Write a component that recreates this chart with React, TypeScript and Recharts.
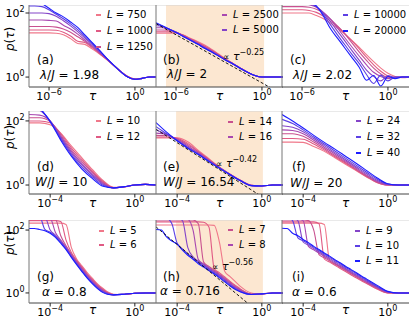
import { LineChart, Line, XAxis, YAxis, ReferenceArea, ReferenceLine } from "recharts";

const FONT = "'DejaVu Sans', sans-serif";

// log10(tau) sample points, one grid per row
const TAU_ROW1 = [-7.4, -7, -6.5, -6, -5.5, -5, -4.5, -4, -3.5, -3, -2.5, -2, -1.5, -1, -0.5, 0, 0.5, 1, 1.47];
const TAU_ROW2 = [-5, -4.5, -4, -3.5, -3, -2.5, -2, -1.5, -1, -0.5, 0, 0.5, 1];
const TAU_ROW3 = [-5, -4.75, -4.5, -4.25, -4, -3.75, -3.5, -3.25, -3, -2.75, -2.5, -2.25, -2, -1.75, -1.5, -1.25, -1, -0.5, 0, 0.5, 1];

const SIZES_ROW1 = [750, 1000, 1250, 2500, 5000, 10000, 20000];
const SIZES_ROW2 = [10, 12, 14, 16, 24, 32, 40];
const SIZES_ROW3 = [5, 6, 7, 8, 9, 10, 11];

const COLORS = ["#f0788a", "#e05a84", "#c8508f", "#a848b0", "#8444c8", "#5c40e4", "#1c1cff"];

// log10 p(tau), small L first
const P_A = [
  [1.38, 1.38, 1.38, 1.38, 1.37, 1.32, 1.2, 1.05, 1.02, 0.88, 0.73, 0.56, 0.37, 0.18, 0.02, -0.06, -0.04, 0, 0],
  [1.47, 1.47, 1.47, 1.47, 1.46, 1.4, 1.28, 1.12, 1.08, 0.92, 0.75, 0.56, 0.37, 0.18, 0.02, -0.06, -0.04, 0, 0],
  [1.58, 1.58, 1.58, 1.58, 1.56, 1.5, 1.4, 1.26, 1.12, 0.95, 0.76, 0.57, 0.37, 0.17, 0.01, -0.06, -0.04, 0, 0],
  [1.78, 1.78, 1.78, 1.77, 1.75, 1.62, 1.5, 1.34, 1.16, 0.98, 0.78, 0.58, 0.37, 0.17, 0, -0.07, -0.04, 0, 0],
  [2.0, 2.0, 2.0, 1.98, 1.9, 1.76, 1.6, 1.42, 1.22, 1.02, 0.8, 0.59, 0.37, 0.17, 0, -0.07, -0.04, 0, 0],
  [2.22, 2.22, 2.2, 2.1, 1.96, 1.82, 1.66, 1.48, 1.27, 1.05, 0.83, 0.6, 0.38, 0.17, 0, -0.07, -0.04, 0, 0],
  [2.5, 2.45, 2.3, 2.15, 2.0, 1.88, 1.72, 1.55, 1.32, 1.08, 0.85, 0.6, 0.38, 0.17, 0, -0.07, -0.04, 0, 0],
];
const P_B = [
  [1.37, 1.37, 1.37, 1.37, 1.31, 1.21, 1.11, 1.0, 0.86, 0.71, 0.56, 0.42, 0.28, 0.15, 0.05, 0, 0, 0, 0],
  [1.41, 1.41, 1.41, 1.39, 1.31, 1.2, 1.09, 0.97, 0.84, 0.69, 0.55, 0.42, 0.28, 0.15, 0.05, 0, 0, 0, 0],
  [1.47, 1.47, 1.46, 1.41, 1.3, 1.18, 1.07, 0.95, 0.82, 0.68, 0.54, 0.41, 0.28, 0.15, 0.05, 0, 0, 0, 0],
  [1.54, 1.54, 1.49, 1.41, 1.29, 1.17, 1.05, 0.93, 0.8, 0.67, 0.53, 0.41, 0.28, 0.15, 0.05, 0, 0, 0, 0],
  [1.6, 1.58, 1.5, 1.4, 1.28, 1.16, 1.04, 0.91, 0.79, 0.66, 0.53, 0.4, 0.27, 0.15, 0.05, 0, 0, 0, 0],
  [1.66, 1.6, 1.5, 1.39, 1.27, 1.15, 1.03, 0.9, 0.78, 0.65, 0.52, 0.4, 0.27, 0.15, 0.05, 0, 0, 0, 0],
  [1.7, 1.61, 1.5, 1.39, 1.27, 1.15, 1.03, 0.9, 0.78, 0.65, 0.52, 0.4, 0.27, 0.15, 0.05, 0, 0, 0, 0],
];
const P_C = [
  [2.0, 2.0, 2.0, 2.0, 2.0, 1.92, 1.82, 1.68, 1.52, 1.34, 1.14, 0.93, 0.7, 0.48, 0.28, 0.12, 0.02, -0.02, 0],
  [2.1, 2.1, 2.1, 2.1, 2.08, 2.02, 1.9, 1.74, 1.57, 1.35, 1.12, 0.88, 0.62, 0.38, 0.18, 0.03, -0.03, 0, 0],
  [2.2, 2.2, 2.2, 2.2, 2.18, 2.12, 2.0, 1.8, 1.58, 1.34, 1.06, 0.78, 0.52, 0.28, 0.1, -0.02, 0, 0, 0],
  [2.3, 2.3, 2.3, 2.3, 2.26, 2.18, 2.02, 1.8, 1.52, 1.22, 0.93, 0.65, 0.38, 0.15, 0.02, -0.05, 0, 0, 0],
  [2.35, 2.35, 2.35, 2.33, 2.28, 2.2, 2.0, 1.72, 1.42, 1.12, 0.82, 0.52, 0.22, 0.02, -0.12, 0.05, -0.02, 0, 0],
  [2.4, 2.4, 2.4, 2.38, 2.32, 2.2, 1.95, 1.62, 1.3, 1.0, 0.7, 0.42, 0.08, -0.2, 0.06, -0.12, 0, 0, 0],
  [2.45, 2.45, 2.45, 2.42, 2.35, 2.22, 1.9, 1.5, 1.2, 0.9, 0.6, 0.3, -0.1, 0.05, -0.28, 0.02, -0.05, 0, 0],
];
const P_D = [
  [1.94, 1.94, 1.88, 1.62, 1.22, 0.85, 0.48, 0.14, -0.07, -0.06, 0, 0.02, 0],
  [2.0, 2.0, 1.94, 1.6, 1.16, 0.79, 0.43, 0.11, -0.08, -0.06, 0, 0.02, 0],
  [2.1, 2.1, 1.98, 1.56, 1.1, 0.73, 0.39, 0.08, -0.09, -0.05, 0, 0.02, 0],
  [2.2, 2.18, 2.0, 1.52, 1.05, 0.67, 0.34, 0.05, -0.09, -0.05, 0, 0.02, 0],
  [2.4, 2.33, 2.0, 1.48, 1.0, 0.62, 0.3, 0.02, -0.09, -0.05, 0, 0.02, 0],
  [2.5, 2.38, 1.99, 1.44, 0.95, 0.56, 0.25, -0.01, -0.09, -0.05, 0, 0.02, 0],
  [2.6, 2.4, 1.98, 1.4, 0.9, 0.5, 0.2, -0.04, -0.09, -0.05, 0, 0.02, 0],
];
const P_E = [
  [1.47, 1.47, 1.47, 1.35, 1.08, 0.82, 0.56, 0.34, 0.14, -0.01, -0.03, 0, 0],
  [1.5, 1.5, 1.46, 1.3, 1.05, 0.8, 0.55, 0.34, 0.14, -0.01, -0.03, 0, 0],
  [1.55, 1.54, 1.44, 1.26, 1.03, 0.78, 0.55, 0.33, 0.14, -0.01, -0.03, 0, 0],
  [1.62, 1.58, 1.42, 1.22, 1.0, 0.77, 0.54, 0.33, 0.14, -0.01, -0.03, 0, 0],
  [1.72, 1.58, 1.4, 1.18, 0.98, 0.75, 0.53, 0.33, 0.13, -0.02, -0.03, 0, 0],
  [1.82, 1.6, 1.38, 1.16, 0.96, 0.74, 0.53, 0.32, 0.13, -0.02, -0.03, 0, 0],
  [1.95, 1.65, 1.38, 1.15, 0.95, 0.73, 0.52, 0.32, 0.13, -0.02, -0.03, 0, 0],
];
const P_F = [
  [1.34, 1.34, 1.33, 1.2, 1.05, 0.85, 0.65, 0.45, 0.25, 0.07, 0, 0, 0],
  [1.45, 1.45, 1.43, 1.28, 1.09, 0.88, 0.68, 0.47, 0.26, 0.08, 0, 0, 0],
  [1.6, 1.6, 1.52, 1.34, 1.13, 0.92, 0.71, 0.49, 0.28, 0.09, 0, 0, 0],
  [1.72, 1.7, 1.6, 1.4, 1.18, 0.97, 0.75, 0.53, 0.31, 0.11, 0.01, 0, 0],
  [1.85, 1.8, 1.66, 1.45, 1.23, 1.01, 0.79, 0.57, 0.35, 0.14, 0.02, 0, 0],
  [2.05, 1.92, 1.72, 1.5, 1.28, 1.06, 0.84, 0.62, 0.4, 0.18, 0.03, 0, 0],
  [2.2, 2.0, 1.78, 1.55, 1.33, 1.12, 0.9, 0.68, 0.45, 0.22, 0.04, 0, 0],
];
const P_G = [
  [2.22, 2.22, 2.22, 2.22, 2.22, 2.22, 2.22, 2.18, 1.45, 1.08, 0.86, 0.65, 0.46, 0.28, 0.14, 0.02, -0.04, -0.05, -0.01, 0, 0],
  [2.3, 2.3, 2.3, 2.3, 2.3, 2.3, 2.27, 1.68, 1.29, 1.04, 0.82, 0.61, 0.42, 0.25, 0.11, 0, -0.05, -0.05, -0.01, 0, 0],
  [2.36, 2.36, 2.36, 2.36, 2.36, 2.34, 1.82, 1.5, 1.24, 1.01, 0.79, 0.58, 0.39, 0.22, 0.09, -0.01, -0.05, -0.04, -0.01, 0, 0],
  [2.4, 2.4, 2.4, 2.4, 2.38, 1.92, 1.68, 1.46, 1.21, 0.98, 0.76, 0.55, 0.36, 0.19, 0.07, -0.02, -0.06, -0.04, -0.01, 0, 0],
  [2.45, 2.45, 2.45, 2.42, 2.0, 1.84, 1.64, 1.43, 1.18, 0.95, 0.73, 0.52, 0.33, 0.17, 0.05, -0.03, -0.06, -0.04, -0.01, 0, 0],
  [2.5, 2.5, 2.45, 2.02, 1.93, 1.8, 1.61, 1.4, 1.15, 0.92, 0.7, 0.49, 0.31, 0.15, 0.03, -0.04, -0.06, -0.04, -0.01, 0, 0],
  [2.05, 2.05, 2.02, 1.98, 1.9, 1.77, 1.58, 1.38, 1.13, 0.9, 0.68, 0.47, 0.29, 0.13, 0.01, -0.05, -0.06, -0.04, -0.01, 0, 0],
];
const P_H = [
  [2.16, 2.16, 2.16, 2.16, 2.16, 2.16, 2.16, 2.16, 2.16, 2.16, 2.16, 2.15, 1.6, 0.68, 0.52, 0.36, 0.2, 0, -0.04, 0, 0],
  [2.26, 2.26, 2.26, 2.26, 2.26, 2.26, 2.26, 2.26, 2.26, 2.25, 2.1, 0.78, 0.64, 0.51, 0.37, 0.24, 0.12, -0.03, -0.03, 0, 0],
  [2.32, 2.32, 2.32, 2.32, 2.32, 2.32, 2.32, 2.32, 2.2, 0.98, 0.84, 0.72, 0.6, 0.47, 0.34, 0.21, 0.1, -0.04, -0.03, 0, 0],
  [2.35, 2.35, 2.35, 2.35, 2.35, 2.35, 2.34, 2.0, 1.06, 0.92, 0.8, 0.69, 0.57, 0.44, 0.31, 0.18, 0.08, -0.04, -0.03, 0, 0],
  [2.38, 2.38, 2.38, 2.38, 2.38, 2.3, 1.45, 1.15, 1.01, 0.89, 0.77, 0.66, 0.54, 0.41, 0.28, 0.15, 0.06, -0.05, -0.03, 0, 0],
  [2.4, 2.4, 2.38, 2.2, 1.58, 1.4, 1.24, 1.1, 0.97, 0.86, 0.74, 0.63, 0.51, 0.38, 0.25, 0.13, 0.04, -0.05, -0.03, 0, 0],
  [2.02, 2.0, 1.78, 1.65, 1.55, 1.36, 1.2, 1.07, 0.93, 0.82, 0.71, 0.6, 0.48, 0.35, 0.22, 0.11, 0.03, -0.05, -0.03, 0, 0],
];
const P_I = [
  [2.22, 2.22, 2.22, 2.22, 2.22, 2.22, 2.22, 2.22, 2.18, 1.02, 0.92, 0.82, 0.72, 0.62, 0.52, 0.42, 0.32, 0.12, 0, 0, 0],
  [2.26, 2.26, 2.26, 2.26, 2.26, 2.26, 2.26, 2.2, 1.08, 0.98, 0.88, 0.78, 0.68, 0.58, 0.48, 0.39, 0.3, 0.13, 0, 0, 0],
  [2.32, 2.32, 2.32, 2.32, 2.32, 2.3, 2.0, 1.22, 1.12, 1.02, 0.92, 0.82, 0.72, 0.62, 0.52, 0.42, 0.33, 0.15, 0.01, 0, 0],
  [2.35, 2.35, 2.35, 2.35, 2.3, 1.48, 1.37, 1.27, 1.16, 1.06, 0.95, 0.85, 0.75, 0.65, 0.55, 0.45, 0.35, 0.17, 0.02, 0, 0],
  [2.38, 2.38, 2.38, 2.3, 1.62, 1.52, 1.41, 1.31, 1.2, 1.1, 0.99, 0.89, 0.78, 0.68, 0.58, 0.48, 0.38, 0.19, 0.03, 0, 0],
  [2.4, 2.4, 2.3, 1.75, 1.66, 1.56, 1.45, 1.35, 1.24, 1.14, 1.03, 0.93, 0.82, 0.72, 0.62, 0.51, 0.41, 0.21, 0.04, 0, 0],
  [2.06, 2.05, 1.9, 1.82, 1.7, 1.6, 1.48, 1.38, 1.27, 1.17, 1.06, 0.96, 0.85, 0.75, 0.65, 0.54, 0.44, 0.24, 0.05, 0, 0],
];

// power-law guides at the critical points
const FIT_B = [{ x: -7.4, y: 1.67 }, { x: 1.47, y: -0.55 }];
const FIT_E = [{ x: -5, y: 1.74 }, { x: 1, y: -0.78 }];
const FIT_H = [{ x: -5, y: 2.1 }, { x: 0, y: -0.7 }];

const PLOT_W = 127;
const COL_LEFT = [29, 156, 282];
const ROWS = [
  { top: 5, height: 82, yDomain: [-0.31, 2.25], xDomain: [-7.4, 1.47], xTicks: [-6, 0], taus: TAU_ROW1 },
  { top: 111, height: 83, yDomain: [-0.28, 2.31], xDomain: [-5, 1], xTicks: [-4, 0], taus: TAU_ROW2 },
  { top: 220, height: 83, yDomain: [-0.32, 2.32], xDomain: [-5, 1], xTicks: [-4, 0], taus: TAU_ROW3 },
];

const exp = (v: number) => (v < 0 ? "\u2212" + Math.abs(v) : String(v));

function XTick(props: any) {
  const { x, y, payload } = props;
  return (
    <text x={x} y={y + 7} textAnchor="middle" fontFamily={FONT} fontSize={11} fill="#000">
      10<tspan dy={-5} fontSize={8}>{exp(payload.value)}</tspan>
    </text>
  );
}

function YTick(props: any) {
  const { x, y, payload } = props;
  return (
    <text x={x + 1} y={y + 4} textAnchor="end" fontFamily={FONT} fontSize={11} fill="#000">
      10<tspan dy={-5} fontSize={8}>{exp(payload.value)}</tspan>
    </text>
  );
}

function Panel({ row, col, values, shade, fit }: any) {
  const r = ROWS[row];
  const yw = col === 0 ? 29 : 6;
  return (
    <div style={{ position: "absolute", left: COL_LEFT[col] - yw, top: r.top }}>
      <LineChart width={yw + PLOT_W} height={r.height + 22} margin={{ top: 0, right: 0, bottom: 0, left: 0 }}>
        <XAxis
          type="number"
          dataKey="x"
          domain={r.xDomain}
          ticks={r.xTicks}
          interval={0}
          allowDataOverflow
          height={22}
          tickSize={3.5}
          axisLine={{ stroke: "#444" }}
          tickLine={{ stroke: "#222" }}
          tick={(p: any) => <XTick {...p} />}
        />
        <YAxis
          type="number"
          domain={r.yDomain}
          ticks={[0, 2]}
          interval={0}
          allowDataOverflow
          width={yw}
          tickSize={3.5}
          axisLine={{ stroke: "#777" }}
          tickLine={{ stroke: "#222" }}
          tick={col === 0 ? (p: any) => <YTick {...p} /> : false}
        />
        {shade && <ReferenceArea x1={shade[0]} x2={shade[1]} fill="#fce7d1" fillOpacity={1} stroke="none" />}
        <ReferenceLine y={r.yDomain[1]} stroke="#d4d4d4" />
        {values.map((vals: number[], k: number) => (
          <Line
            key={k}
            data={r.taus.map((t, i) => ({ x: t, y: vals[i] }))}
            dataKey="y"
            type="monotone"
            stroke={COLORS[k]}
            strokeWidth={1.1}
            dot={false}
            isAnimationActive={false}
          />
        ))}
        {fit && (
          <Line
            data={fit}
            dataKey="y"
            type="linear"
            stroke="#000"
            strokeWidth={0.9}
            strokeDasharray="3 2"
            dot={false}
            isAnimationActive={false}
          />
        )}
      </LineChart>
    </div>
  );
}

function Txt({ x, y, size = 12, center = false, children }: any) {
  return (
    <div
      style={{
        position: "absolute",
        left: x,
        top: y,
        transform: center ? "translate(-50%, -50%)" : "translateY(-50%)",
        fontFamily: FONT,
        fontSize: size,
        lineHeight: 1,
        whiteSpace: "nowrap",
        color: "#000",
      }}
    >
      {children}
    </div>
  );
}

function Legend({ x, ys, idx, sizes }: any) {
  return (
    <>
      {idx.map((k: number, j: number) => (
        <div key={k}>
          <div style={{ position: "absolute", left: x, top: ys[j] - 1, width: 5, height: 2, background: COLORS[k] }} />
          <Txt x={x + 11} y={ys[j]} size={10}>
            <i>L</i> = {sizes[k]}
          </Txt>
        </div>
      ))}
    </>
  );
}

const sup = (s: string) => <span style={{ fontSize: 8, position: "relative", top: -5 }}>{s}</span>;

export default function App() {
  return (
    <div style={{ position: "absolute", left: 0, top: 0, width: 415, height: 323, background: "#fff", overflow: "hidden" }}>
      <Panel row={0} col={0} values={P_A} />
      <Panel row={0} col={1} values={P_B} shade={[-6.7, 0.15]} fit={FIT_B} />
      <Panel row={0} col={2} values={P_C} />
      <Panel row={1} col={0} values={P_D} />
      <Panel row={1} col={1} values={P_E} shade={[-4.05, 0.05]} fit={FIT_E} />
      <Panel row={1} col={2} values={P_F} />
      <Panel row={2} col={0} values={P_G} />
      <Panel row={2} col={1} values={P_H} shade={[-4.05, 0.05]} fit={FIT_H} />
      <Panel row={2} col={2} values={P_I} />

      {[39, 137, 243].map((y) => (
        <div
          key={y}
          style={{
            position: "absolute",
            left: 10,
            top: y,
            transform: "translate(-50%, -50%) rotate(-90deg)",
            fontFamily: FONT,
            fontSize: 12,
            whiteSpace: "nowrap",
          }}
        >
          <i>p</i>(<i>τ</i>)
        </div>
      ))}
      {[96, 203, 310].map((y) =>
        COL_LEFT.map((l) => (
          <Txt key={`${y}-${l}`} x={l + PLOT_W / 2} y={y} size={12} center>
            <i>τ</i>
          </Txt>
        ))
      )}

      <Legend x={96} ys={[15, 31, 47]} idx={[0, 1, 2]} sizes={SIZES_ROW1} />
      <Legend x={222} ys={[15, 30]} idx={[3, 4]} sizes={SIZES_ROW1} />
      <Legend x={343} ys={[15, 31]} idx={[5, 6]} sizes={SIZES_ROW1} />
      <Legend x={96} ys={[121, 137]} idx={[0, 1]} sizes={SIZES_ROW2} />
      <Legend x={228} ys={[122, 137]} idx={[2, 3]} sizes={SIZES_ROW2} />
      <Legend x={356} ys={[121, 137, 153]} idx={[4, 5, 6]} sizes={SIZES_ROW2} />
      <Legend x={99} ys={[231, 245]} idx={[0, 1]} sizes={SIZES_ROW3} />
      <Legend x={228} ys={[230, 245]} idx={[2, 3]} sizes={SIZES_ROW3} />
      <Legend x={355} ys={[231, 246, 261]} idx={[4, 5, 6]} sizes={SIZES_ROW3} />

      <Txt x={37} y={60}>(a)</Txt>
      <Txt x={40} y={75}><i>λ</i>/<i>J</i> = 1.98</Txt>
      <Txt x={163} y={60}>(b)</Txt>
      <Txt x={167} y={74}><i>λ</i>/<i>J</i> = 2</Txt>
      <Txt x={290} y={60}>(c)</Txt>
      <Txt x={293} y={75}><i>λ</i>/<i>J</i> = 2.02</Txt>

      <Txt x={37} y={167}>(d)</Txt>
      <Txt x={35} y={182}><i>W</i>/<i>J</i> = 10</Txt>
      <Txt x={163} y={167}>(e)</Txt>
      <Txt x={163} y={182}><i>W</i>/<i>J</i> = 16.54</Txt>
      <Txt x={292} y={167}>(f)</Txt>
      <Txt x={290} y={183}><i>W</i>/<i>J</i> = 20</Txt>

      <Txt x={37} y={277}>(g)</Txt>
      <Txt x={42} y={292}><i>α</i> = 0.8</Txt>
      <Txt x={163} y={277}>(h)</Txt>
      <Txt x={160} y={291}><i>α</i> = 0.716</Txt>
      <Txt x={292} y={277}>(i)</Txt>
      <Txt x={292} y={292}><i>α</i> = 0.6</Txt>

      <Txt x={223} y={56} size={11}><span style={{ fontSize: 9 }}>∝</span> <i>τ</i>{sup("\u22120.25")}</Txt>
      <Txt x={216} y={163} size={11}><span style={{ fontSize: 9 }}>∝</span> <i>τ</i>{sup("\u22120.42")}</Txt>
      <Txt x={212} y={266} size={11}><span style={{ fontSize: 9 }}>∝</span> <i>τ</i>{sup("\u22120.56")}</Txt>
    </div>
  );
}
